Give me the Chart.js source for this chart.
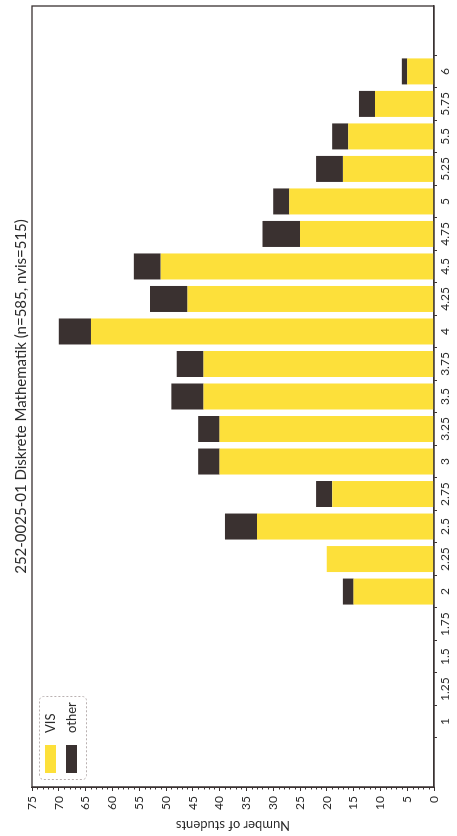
<!DOCTYPE html>
<html>
<head>
<meta charset="utf-8">
<script src="https://cdn.jsdelivr.net/npm/chart.js@4/dist/chart.umd.min.js"></script>
<style>
  html, body { margin: 0; padding: 0; background: #ffffff; overflow: hidden; }
  #wrap {
    position: absolute; left: 0; top: 0;
    width: 836px; height: 457px;
    transform-origin: 0 0;
    transform: translateY(836px) rotate(-90deg);
    background: #ffffff;
  }
</style>
</head>
<body>
<div id="wrap"><canvas id="c" width="836" height="457"></canvas></div>
<script>
// ---- data ----
const titleText = '252-0025-01 Diskrete Mathematik (n=585, nvis=515)';
const valueAxisTitle = 'Number of students';
const grades = [1, 1.25, 1.5, 1.75, 2, 2.25, 2.5, 2.75, 3, 3.25, 3.5, 3.75, 4, 4.25, 4.5, 4.75, 5, 5.25, 5.5, 5.75, 6];
const gradeLabels = ['1', '1.25', '1.5', '1.75', '2', '2.25', '2.5', '2.75', '3', '3.25', '3.5', '3.75', '4', '4.25', '4.5', '4.75', '5', '5.25', '5.5', '5.75', '6'];
const visCounts   = [0, 0, 0, 0, 15, 20, 33, 19, 40, 40, 43, 43, 64, 46, 51, 25, 27, 17, 16, 11, 5];
const otherCounts = [0, 0, 0, 0,  2,  0,  6,  3,  4,  4,  6,  5,  6,  7,  5,  7,  3,  5,  3,  3, 1];
const seriesNames = ['VIS', 'other'];
const valueMin = 0, valueMax = 75, valueStep = 5, minorStep = 1;

// ---- styles ----
const FONT = 'Lato, "Liberation Sans", sans-serif';
const YELLOW = '#FDE03A';
const DARK = '#3a3130';
const AXIS = '#3a3232';
const TEXT = '#2b2b2b';

const framePlugin = {
  id: 'frame',
  afterDraw(chart) {
    const { ctx, chartArea: a, scales } = chart;
    ctx.save();
    // frame around plot
    ctx.strokeStyle = AXIS;
    ctx.lineWidth = 1.3;
    ctx.strokeRect(a.left, a.top, a.right - a.left, a.bottom - a.top);
    // minor ticks on value axis
    const y = scales.y;
    ctx.lineWidth = 1;
    ctx.beginPath();
    for (let v = valueMin; v <= valueMax; v += minorStep) {
      if (v % valueStep === 0) continue;
      const p = Math.round(y.getPixelForValue(v)) + 0.5;
      ctx.moveTo(a.left - 2.5, p);
      ctx.lineTo(a.left, p);
    }
    ctx.stroke();
    // legend box inside plot (top-left)
    const bx = a.left + 7, by = a.top + 7, bw = 83, bh = 47;
    ctx.setLineDash([2, 2]);
    ctx.strokeStyle = '#b9b0b0';
    ctx.lineWidth = 1;
    ctx.beginPath();
    if (ctx.roundRect) ctx.roundRect(bx + 0.5, by + 0.5, bw, bh, 4); else ctx.rect(bx + 0.5, by + 0.5, bw, bh);
    ctx.stroke();
    ctx.setLineDash([]);
    ctx.font = '13px ' + FONT;
    ctx.textBaseline = 'middle';
    ctx.textAlign = 'left';
    chart.data.datasets.forEach((ds, i) => {
      const rowY = by + 6 + i * 21;
      ctx.fillStyle = ds.backgroundColor;
      ctx.fillRect(bx + 7, rowY, 28, 11);
      ctx.fillStyle = TEXT;
      ctx.fillText(ds.label, bx + 47, rowY + 6);
    });
    ctx.restore();
  }
};

const ctx = document.getElementById('c').getContext('2d');
new Chart(ctx, {
  type: 'bar',
  data: {
    datasets: [
      { label: seriesNames[0], data: grades.map((g, i) => ({ x: g, y: visCounts[i] })), backgroundColor: YELLOW, borderWidth: 0 },
      { label: seriesNames[1], data: grades.map((g, i) => ({ x: g, y: otherCounts[i] })), backgroundColor: DARK, borderWidth: 0 }
    ]
  },
  options: {
    responsive: false,
    animation: false,
    barPercentage: 0.8,
    categoryPercentage: 1.0,
    layout: { padding: { left: 0, right: 6, top: 0, bottom: 0 } },
    plugins: {
      legend: { display: false },
      tooltip: { enabled: false },
      title: {
        display: true,
        text: titleText,
        fullSize: false,
        color: TEXT,
        font: { family: FONT, size: 15, weight: 'normal', lineHeight: 1.2 },
        padding: { top: 12, bottom: 2 }
      }
    },
    scales: {
      x: {
        type: 'linear',
        stacked: true,
        min: 0.64,
        max: 6.36,
        afterBuildTicks: (axis) => { axis.ticks = grades.map(v => ({ value: v })); },
        afterFit: (s) => { s.height = 23; },
        grid: { drawOnChartArea: false, tickLength: 3, tickColor: AXIS, tickWidth: 1 },
        border: { display: true, color: AXIS, width: 1.3 },
        ticks: {
          autoSkip: false, maxRotation: 0, minRotation: 0, padding: 1,
          color: TEXT, font: { family: FONT, size: 12 },
          callback: (v, i) => gradeLabels[i]
        }
      },
      y: {
        stacked: true,
        min: valueMin,
        max: valueMax,
        afterFit: (s) => { s.width = 49; },
        grid: { drawOnChartArea: false, tickLength: 4, tickColor: AXIS, tickWidth: 1 },
        border: { display: true, color: AXIS, width: 1.3 },
        ticks: { stepSize: valueStep, padding: 5, color: TEXT, font: { family: FONT, size: 12 } },
        title: {
          display: true, text: valueAxisTitle, color: TEXT,
          font: { family: FONT, size: 13 }, padding: { top: 3, bottom: 0 }
        }
      }
    }
  },
  plugins: [framePlugin]
});
</script>
</body>
</html>
